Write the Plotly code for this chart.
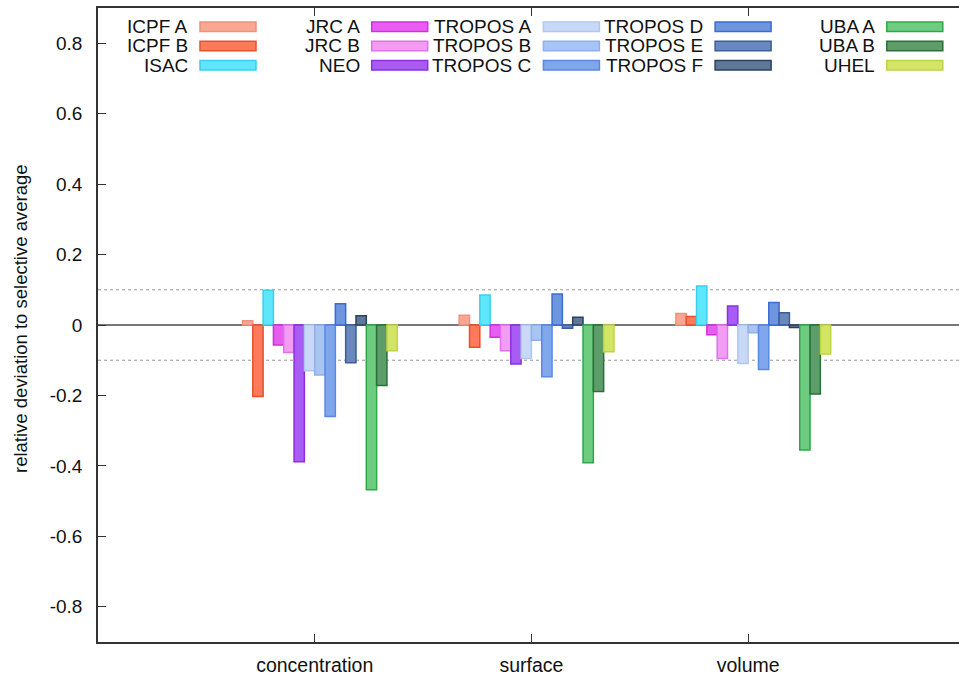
import plotly.graph_objects as go

categories = ["concentration", "surface", "volume"]

series_names = ["ICPF A", "ICPF B", "ISAC", "JRC A", "JRC B", "NEO",
                "TROPOS A", "TROPOS B", "TROPOS C", "TROPOS D", "TROPOS E", "TROPOS F",
                "UBA A", "UBA B", "UHEL"]

icpf_a   = [0.012, 0.028, 0.033]
icpf_b   = [-0.203, -0.063, 0.024]
isac     = [0.099, 0.085, 0.111]
jrc_a    = [-0.057, -0.035, -0.028]
jrc_b    = [-0.078, -0.073, -0.095]
neo      = [-0.388, -0.111, 0.054]
tropos_a = [-0.130, -0.095, -0.109]
tropos_b = [-0.142, -0.043, -0.022]
tropos_c = [-0.260, -0.147, -0.126]
tropos_d = [0.060, 0.088, 0.064]
tropos_e = [-0.107, -0.009, 0.035]
tropos_f = [0.026, 0.022, -0.007]
uba_a    = [-0.468, -0.391, -0.355]
uba_b    = [-0.172, -0.189, -0.196]
uhel     = [-0.073, -0.076, -0.082]

series_values = [icpf_a, icpf_b, isac, jrc_a, jrc_b, neo,
                 tropos_a, tropos_b, tropos_c, tropos_d, tropos_e, tropos_f,
                 uba_a, uba_b, uhel]

fill_colors = ["#f8a890", "#ff7a5a", "#5ee6fa", "#e85cf0", "#f29cf4", "#a85cf4",
               "#c8d8f6", "#a8c4f2", "#80a6ec", "#6e96de", "#6a88bc", "#607898",
               "#6ecc80", "#5e9c6a", "#d4e466"]
line_colors = ["#f09080", "#e8502e", "#38d0f0", "#d030e0", "#e070ee", "#8a30e0",
               "#b0c8f0", "#90b0ec", "#5a88e4", "#3c6cd0", "#3c5c9c", "#2a4060",
               "#30a848", "#2a7038", "#c0d440"]

y_tick_vals = [-0.8, -0.6, -0.4, -0.2, 0, 0.2, 0.4, 0.6, 0.8]
y_tick_text = ["-0.8", "-0.6", "-0.4", "-0.2", "0", "0.2", "0.4", "0.6", "0.8"]
ref_lines = [-0.1, 0.1]

FONT = "Liberation Sans, Arial, Helvetica, sans-serif"
W = 1.0 / 21
n = len(series_names)

fig = go.Figure()
for i, (name, vals) in enumerate(zip(series_names, series_values)):
    fig.add_trace(go.Bar(
        x=categories, y=vals, name=name,
        width=W, offset=(i - 7) * W,
        marker=dict(color=fill_colors[i], line=dict(color=line_colors[i], width=1.5)),
        showlegend=False,
    ))

# reference dotted lines
for yv in ref_lines:
    fig.add_shape(type="line", xref="paper", x0=0, x1=1, yref="y", y0=yv, y1=yv,
                  line=dict(color="#999999", width=1, dash="dot"), layer="below")

# custom gnuplot-style key: text right-aligned, sample box to the right
L, T, PW, PH = 98, 8, 861, 634
def px(x):
    return (x - L) / PW
def py(y):
    return (T + PH - y) / PH

for i, name in enumerate(series_names):
    col, row = i // 3, i % 3
    bx = 200 + 171.7 * col
    by = 26.7 + 19.3 * row
    fig.add_shape(type="rect", xref="paper", yref="paper",
                  x0=px(bx), x1=px(bx + 56), y0=py(by + 4.7), y1=py(by - 4.7),
                  fillcolor=fill_colors[i], line=dict(color=line_colors[i], width=1.5))
    fig.add_annotation(xref="paper", yref="paper", x=px(bx - 10), y=py(by),
                       xanchor="right", yanchor="middle", text=name, showarrow=False,
                       font=dict(family=FONT, size=19, color="#111111"))

fig.add_annotation(xref="paper", yref="paper", x=px(21), y=py(319),
                   xanchor="center", yanchor="middle", textangle=-90,
                   text="relative deviation to selective average", showarrow=False,
                   font=dict(family=FONT, size=18.5, color="#111111"))

fig.update_layout(
    width=959, height=676,
    template="none",
    barmode="overlay",
    plot_bgcolor="white", paper_bgcolor="white",
    margin=dict(l=98, r=0, t=8, b=34, pad=0),
    font=dict(family=FONT, size=19, color="#111111"),
    xaxis=dict(
        type="category", categoryorder="array", categoryarray=categories,
        range=[-1.0, 2.973], showgrid=False, zeroline=False,
        showline=True, linecolor="#333333", linewidth=1.5, mirror="ticks",
        ticks="inside", ticklen=8, tickwidth=1, tickcolor="#333333",
        ticklabelstandoff=5, automargin=False,
        tickfont=dict(family=FONT, size=19.5, color="#111111"),
    ),
    yaxis=dict(
        range=[-0.9, 0.9], showgrid=False,
        zeroline=True, zerolinecolor="#777777", zerolinewidth=1.5,
        showline=True, linecolor="#333333", linewidth=1.5, mirror=False,
        ticks="inside", ticklen=8, tickwidth=1, tickcolor="#333333",
        tickvals=y_tick_vals, ticktext=y_tick_text,
        ticklabelstandoff=10, automargin=False,
        tickfont=dict(family=FONT, size=19, color="#111111"),
    ),
)

fig.write_html("out.html")
